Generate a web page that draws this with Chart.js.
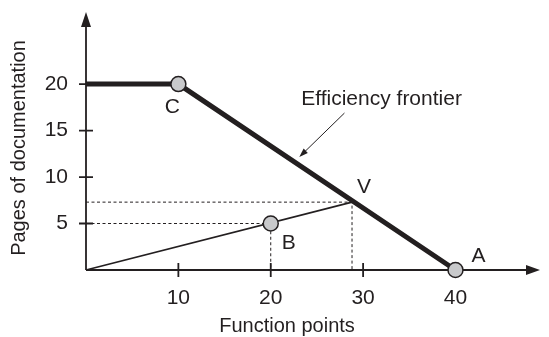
<!DOCTYPE html>
<html><head><meta charset="utf-8">
<script src="https://cdn.jsdelivr.net/npm/chart.js@4/dist/chart.umd.min.js"></script>
<style>html,body{margin:0;padding:0;background:#fff;}#wrap{width:549px;height:337px;position:relative;}</style>
</head><body><div id="wrap"><canvas id="c"></canvas></div>
<script>
// ---- data ----
const xTicks = [10, 20, 30, 40];
const yTicks = [5, 10, 15, 20];
const frontierX = [0, 10, 40];
const frontierY = [20, 20, 0];
const rayX = [0, 28.8];
const rayY = [0, 7.3];
const markerNames = ['C', 'B', 'A'];
const markerX = [10, 20, 40];
const markerY = [20, 5, 0];
const vName = 'V';
const vX = 28.8;
const vY = 7.3;
const xMax = 49.15;
const yMax = 27.75;
const xTitle = 'Function points';
const yTitle = 'Pages of documentation';
const frontierLabel = 'Efficiency frontier';
const frontierLabelAt = [23.3, 18.4];
const frontierArrowFrom = [27.98, 16.88];
const frontierArrowTo = [23.09, 12.15];

// ---- styles ----
const INK = '#231f20';
const FONT = '"Liberation Sans", Arial, Helvetica, sans-serif';
const FS = 21;
const FS_TITLE = 20;
const labelOffsets = { C: [-6, 23], B: [18, 20], A: [23, -14], V: [12, -15] };

const pts = (xs, ys) => xs.map((x, i) => ({ x: x, y: ys[i] }));

const axesPlugin = {
  id: 'axesPlugin',
  beforeDatasetsDraw(chart) {
    const ctx = chart.ctx, xs = chart.scales.x, ys = chart.scales.y;
    const x0 = xs.getPixelForValue(0), y0 = ys.getPixelForValue(0);
    const xEnd = xs.getPixelForValue(xMax), yEnd = ys.getPixelForValue(yMax);
    ctx.save();
    ctx.strokeStyle = INK; ctx.fillStyle = INK; ctx.lineWidth = 1.8;
    ctx.beginPath();
    ctx.moveTo(x0, y0); ctx.lineTo(xEnd - 10, y0);
    ctx.moveTo(x0, y0); ctx.lineTo(x0, yEnd + 10);
    xTicks.forEach(v => { const p = xs.getPixelForValue(v); ctx.moveTo(p, y0 - 7); ctx.lineTo(p, y0 + 7); });
    yTicks.forEach(v => { const p = ys.getPixelForValue(v); ctx.moveTo(x0 - 7, p); ctx.lineTo(x0 + 7, p); });
    ctx.stroke();
    ctx.beginPath();
    ctx.moveTo(xEnd, y0); ctx.lineTo(xEnd - 14, y0 - 5); ctx.lineTo(xEnd - 14, y0 + 5); ctx.closePath();
    ctx.moveTo(x0, yEnd); ctx.lineTo(x0 - 5, yEnd + 15); ctx.lineTo(x0 + 5, yEnd + 15); ctx.closePath();
    ctx.fill();
    ctx.restore();
  },
  afterDatasetsDraw(chart) {
    const ctx = chart.ctx, xs = chart.scales.x, ys = chart.scales.y;
    ctx.save();
    ctx.fillStyle = INK; ctx.strokeStyle = INK;
    ctx.font = FS + 'px ' + FONT;
    ctx.textAlign = 'center'; ctx.textBaseline = 'middle';
    const names = markerNames.concat([vName]);
    const lx = markerX.concat([vX]);
    const ly = markerY.concat([vY]);
    names.forEach((n, i) => {
      const o = labelOffsets[n];
      ctx.fillText(n, xs.getPixelForValue(lx[i]) + o[0], ys.getPixelForValue(ly[i]) + o[1]);
    });
    ctx.textAlign = 'left';
    ctx.fillText(frontierLabel, xs.getPixelForValue(frontierLabelAt[0]), ys.getPixelForValue(frontierLabelAt[1]));
    const ax = xs.getPixelForValue(frontierArrowFrom[0]), ay = ys.getPixelForValue(frontierArrowFrom[1]);
    const bx = xs.getPixelForValue(frontierArrowTo[0]), by = ys.getPixelForValue(frontierArrowTo[1]);
    const ang = Math.atan2(by - ay, bx - ax);
    ctx.lineWidth = 1;
    ctx.beginPath(); ctx.moveTo(ax, ay); ctx.lineTo(bx - 6 * Math.cos(ang), by - 6 * Math.sin(ang)); ctx.stroke();
    ctx.beginPath();
    ctx.moveTo(bx, by);
    ctx.lineTo(bx - 9 * Math.cos(ang) + 3 * Math.sin(ang), by - 9 * Math.sin(ang) - 3 * Math.cos(ang));
    ctx.lineTo(bx - 9 * Math.cos(ang) - 3 * Math.sin(ang), by - 9 * Math.sin(ang) + 3 * Math.cos(ang));
    ctx.closePath(); ctx.fill();
    ctx.font = FS_TITLE + 'px ' + FONT;
    ctx.textAlign = 'center'; ctx.textBaseline = 'alphabetic';
    ctx.fillText(xTitle, 287, 332);
    ctx.translate(25, 148);
    ctx.rotate(-Math.PI / 2);
    ctx.fillText(yTitle, 0, 0);
    ctx.restore();
  }
};

new Chart(document.getElementById('c'), {
  type: 'scatter',
  data: {
    datasets: [
      { data: pts(markerX, markerY), pointRadius: 7.5, pointHoverRadius: 7.5, pointBackgroundColor: '#c8c9cb',
        pointBorderColor: INK, pointBorderWidth: 1.5, showLine: false, clip: false },
      { data: pts(frontierX, frontierY), showLine: true, borderColor: INK, borderWidth: 5, pointRadius: 0,
        borderJoinStyle: 'miter', clip: false },
      { data: pts(rayX, rayY), showLine: true, borderColor: INK, borderWidth: 1.6, pointRadius: 0, clip: false },
      { data: [{ x: 0, y: vY }, { x: vX, y: vY }, { x: vX, y: 0 }], showLine: true, borderColor: INK, borderWidth: 1,
        borderDash: [3, 2.5], pointRadius: 0, clip: false },
      { data: [{ x: 0, y: markerY[1] }, { x: markerX[1], y: markerY[1] }, { x: markerX[1], y: 0 }], showLine: true,
        borderColor: INK, borderWidth: 1, borderDash: [3, 2.5], pointRadius: 0, clip: false }
    ]
  },
  options: {
    responsive: true, maintainAspectRatio: false, animation: false,
    layout: { padding: { top: 12, right: 1, left: 0, bottom: 0 } },
    plugins: { legend: { display: false }, tooltip: { enabled: false } },
    scales: {
      x: {
        type: 'linear', min: 0, max: xMax,
        grid: { display: false, drawTicks: false }, border: { display: false },
        afterBuildTicks: a => { a.ticks = xTicks.map(v => ({ value: v })); },
        afterFit: s => { s.height = 67; s.paddingLeft = 0; s.paddingRight = 0; },
        ticks: { autoSkip: false, maxRotation: 0, padding: 16, color: INK, font: { family: FONT, size: FS },
          callback: v => String(v) }
      },
      y: {
        type: 'linear', min: 0, max: yMax,
        grid: { display: false, drawTicks: false }, border: { display: false },
        afterBuildTicks: a => { a.ticks = yTicks.map(v => ({ value: v })); },
        afterFit: s => { s.width = 86; s.paddingTop = 0; s.paddingBottom = 0; },
        ticks: { autoSkip: false, padding: 18, color: INK, font: { family: FONT, size: FS },
          callback: v => String(v) }
      }
    }
  },
  plugins: [axesPlugin]
});
</script>
</body></html>
